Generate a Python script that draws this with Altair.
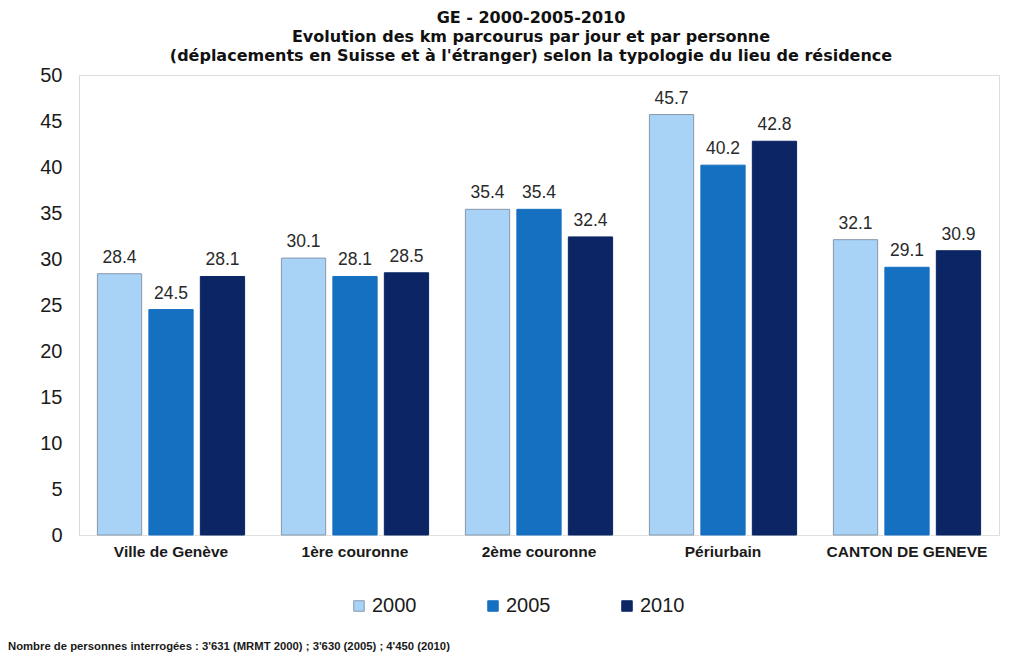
import altair as alt
import pandas as pd

categories = ["Ville de Genève", "1ère couronne", "2ème couronne", "Périurbain", "CANTON DE GENEVE"]
years = ["2000", "2005", "2010"]
v2000 = [28.4, 30.1, 35.4, 45.7, 32.1]
v2005 = [24.5, 28.1, 35.4, 40.2, 29.1]
v2010 = [28.1, 28.5, 32.4, 42.8, 30.9]
colors = ["#A9D3F6", "#1670C2", "#0B2565"]
title_lines = [
    "GE - 2000-2005-2010",
    "Evolution des km parcourus par jour et par personne",
    "(déplacements en Suisse et à l'étranger) selon la typologie du lieu de résidence",
]
footnote = "Nombre de personnes interrogées : 3'631 (MRMT 2000) ; 3'630 (2005) ; 4'450 (2010)"

rows = []
for yr, vals in zip(years, [v2000, v2005, v2010]):
    for c, v in zip(categories, vals):
        rows.append({"cat": c, "year": yr, "value": v})
df = pd.DataFrame(rows)

FONT = "Liberation Sans"

x_enc = alt.X("cat:N", sort=categories, title=None,
              scale=alt.Scale(paddingInner=0.2, paddingOuter=0.1),
              axis=alt.Axis(labelAngle=0, labelFont=FONT, labelFontSize=15.5, labelFontWeight="bold",
                            labelColor="#1a1a1a", ticks=False, domain=True, domainColor="#e0e0e0",
                            labelPadding=9))
xo_enc = alt.XOffset("year:N", sort=years, scale=alt.Scale(paddingInner=0.14, paddingOuter=0))

base = alt.Chart(df)

bars = base.mark_bar(strokeWidth=1).encode(
    x=x_enc,
    xOffset=xo_enc,
    y=alt.Y("value:Q", title=None,
            scale=alt.Scale(domain=[0, 50], nice=False),
            axis=alt.Axis(values=list(range(0, 51, 5)), grid=False, ticks=False, domain=True,
                          domainColor="#d8d8d8", labelFont=FONT, labelFontSize=20,
                          labelColor="#1a1a1a", labelPadding=17)),
    color=alt.Color("year:N", sort=years, title=None,
                    scale=alt.Scale(domain=years, range=colors),
                    legend=alt.Legend(orient="none", legendX=270, legendY=521, direction="horizontal",
                                      columns=3, columnPadding=66, symbolType="square", symbolSize=110,
                                      symbolStrokeWidth=1, labelFont=FONT, labelFontSize=20,
                                      labelColor="#1a1a1a", labelOffset=3)),
    stroke=alt.Stroke("year:N", sort=years, scale=alt.Scale(domain=years, range=["#8797ab", "#1670C2", "#0B2565"]),
                      legend=None),
)

labels = base.mark_text(dy=-7, font=FONT, fontSize=17.5, color="#2a2a2a", baseline="bottom").encode(
    x=alt.X("cat:N", sort=categories),
    xOffset=xo_enc,
    y=alt.Y("value:Q"),
    text=alt.Text("value:Q", format=".1f"),
)

foot = alt.Chart(pd.DataFrame({"t": [footnote]})).mark_text(
    font=FONT, fontSize=11.3, fontWeight="bold", color="#1a1a1a", align="left", baseline="middle"
).encode(text="t:N", x=alt.value(-71), y=alt.value(572))

chart = alt.layer(bars, labels, foot).properties(
    width=920, height=460,
    padding={"left": 0, "top": 2, "right": 2, "bottom": 2},
    title=alt.TitleParams(title_lines, font="DejaVu Sans", fontSize=16, fontWeight="bold", color="#111111",
                          lineHeight=19, anchor="middle", dx=-8, offset=1),
).configure_view(stroke=None).configure(background="white")

chart.save("out.html", embed_options={"renderer": "svg", "actions": False})
